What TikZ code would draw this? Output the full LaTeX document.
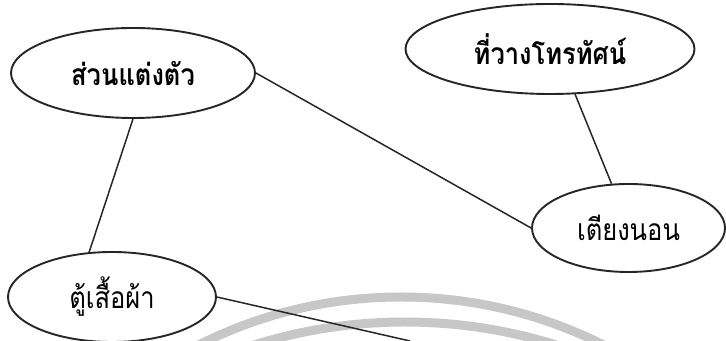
\documentclass[tikz,border=0pt]{standalone}
\usepackage{fontspec}
\newfontfamily\thaifont[Script=Thai,FakeStretch=0.85]{Loma}
\usetikzlibrary{positioning,shapes.geometric}
\tikzset{
  bubble/.style ={ellipse, draw=black!85, line width=0.95pt, fill=white,
                  font=\thaifont\fontsize{15}{18}\selectfont, inner sep=0pt},
  link/.style   ={draw=black!85, line width=0.75pt},
  band/.style   ={draw=black!22, line width=4.5pt}
}

\begin{document}
\begin{tikzpicture}[x=0.5pt,y=0.5pt]
\useasboundingbox (0,0) rectangle (726,341);
%% grey rings at the foot of the page
\begin{scope}
\clip (0,0) rectangle (726,341);
\draw[band] (401,-406) circle[radius=450];
\draw[band] (405,-486) circle[radius=505];
\end{scope}
\coordinate (offpage) at (410,0);
%% the four items
\node[bubble, minimum width=122pt, minimum height=45pt] (dress)    at (133,268) {\bfseries ส่วนแต่งตัว};
\node[bubble, minimum width=144.5pt, minimum height=45pt] (tvstand) at (550,292) {\bfseries ที่วางโทรทัศน์};
\node[bubble, minimum width=96.5pt, minimum height=44pt] (bed)     at (628.5,113) {เตียงนอน};
\node[bubble, minimum width=104pt, minimum height=45pt] (wardrobe) at (112,44)  {ตู้เสื้อผ้า};

\draw[link] (dress.south)  -- (wardrobe.117);
\draw[link] (dress.east)   -- (bed.west);
\draw[link] (tvstand.-61)  -- (bed.111);
\draw[link] (wardrobe.east) -- (offpage);
\end{tikzpicture}
\end{document}
